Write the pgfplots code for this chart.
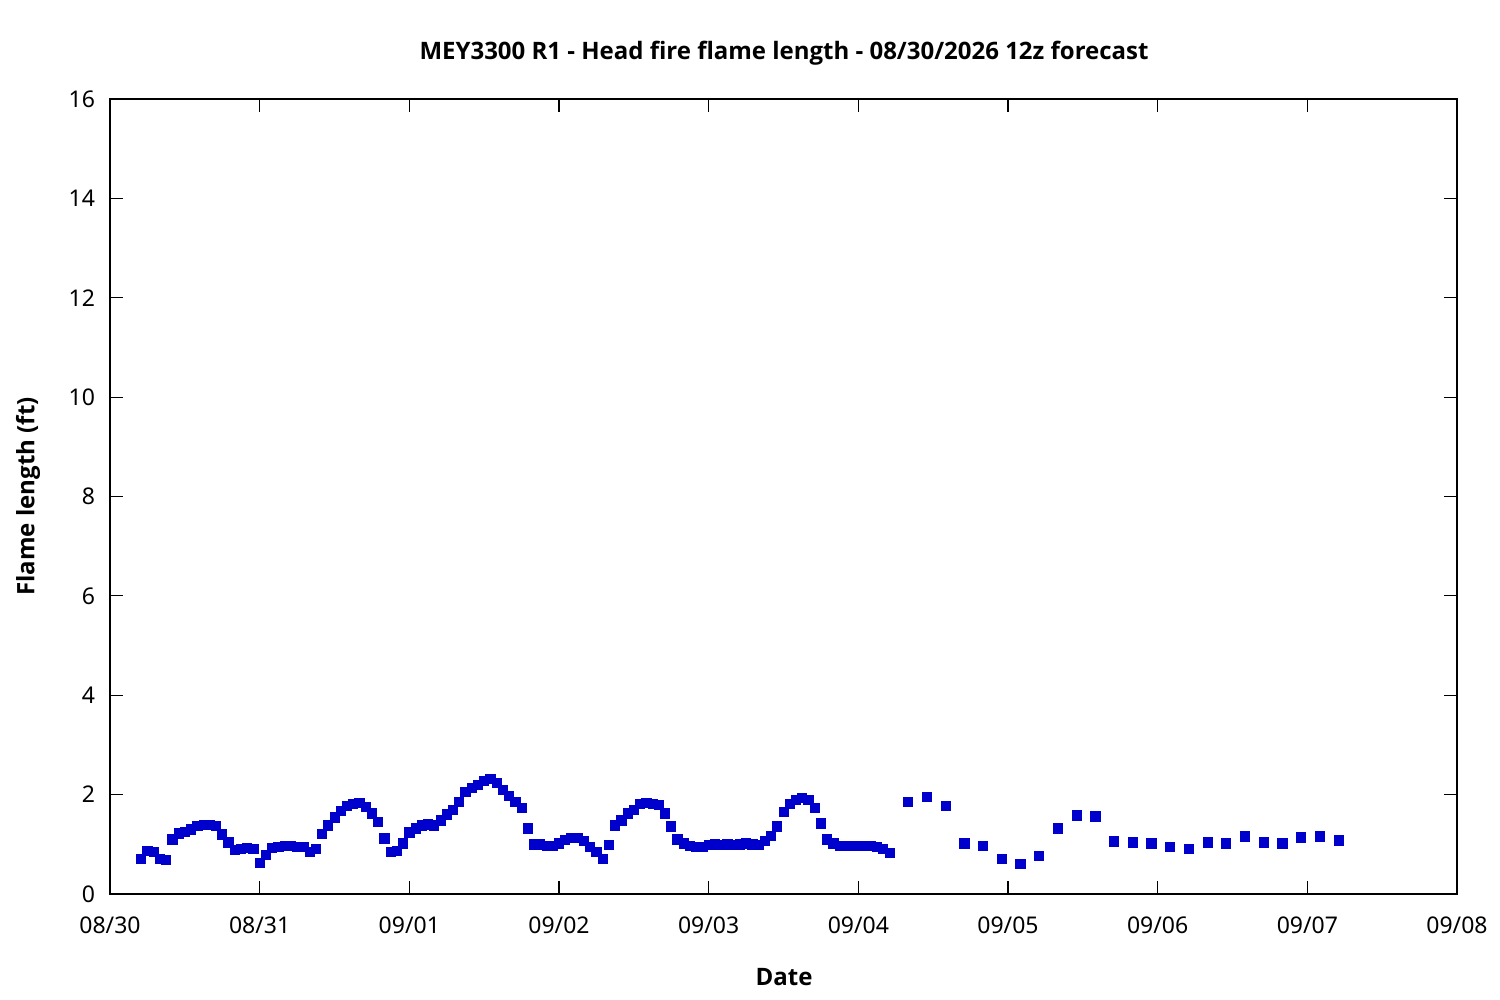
\documentclass[border=0pt]{standalone}
\usepackage{pgfplots}
\pgfplotsset{compat=1.18}
\usepackage{pgfplotstable}
\usepackage{fontspec}
\setmainfont{Noto Sans}
\newfontfamily\titlefont{Open Sans}
\definecolor{ptblue}{RGB}{0,0,204}
\pgfplotstableread{
h v
5 0.70
6 0.87
7 0.85
8 0.70
9 0.68
10 1.10
11 1.22
12 1.25
13 1.30
14 1.37
15 1.39
16 1.39
17 1.37
18 1.20
19 1.04
20 0.89
21 0.91
22 0.93
23 0.90
24 0.62
25 0.78
26 0.93
27 0.95
28 0.97
29 0.97
30 0.94
31 0.94
32 0.84
33 0.90
34 1.21
35 1.38
36 1.54
37 1.68
38 1.77
39 1.82
40 1.84
41 1.76
42 1.62
43 1.45
44 1.12
45 0.84
46 0.86
47 1.02
48 1.24
49 1.32
50 1.38
51 1.40
52 1.38
53 1.48
54 1.60
55 1.70
56 1.86
57 2.05
58 2.13
59 2.19
60 2.28
61 2.32
62 2.23
63 2.09
64 1.97
65 1.86
66 1.74
67 1.32
68 1.00
69 1.00
70 0.96
71 0.96
72 1.02
73 1.09
74 1.13
75 1.13
76 1.07
77 0.94
78 0.84
79 0.70
80 0.98
81 1.38
82 1.48
83 1.62
84 1.70
85 1.82
86 1.83
87 1.81
88 1.79
89 1.62
90 1.36
91 1.10
92 1.02
93 0.96
94 0.94
95 0.94
96 0.98
97 1.00
98 0.98
99 1.00
100 0.98
101 1.00
102 1.02
103 1.00
104 0.98
105 1.07
106 1.17
107 1.36
108 1.66
109 1.81
110 1.90
111 1.94
112 1.89
113 1.74
114 1.42
115 1.10
116 1.02
117 0.96
118 0.96
119 0.96
120 0.96
121 0.96
122 0.96
123 0.94
124 0.90
125 0.82
128 1.85
131 1.95
134 1.78
137 1.02
140 0.96
143 0.70
146 0.60
149 0.76
152 1.32
155 1.58
158 1.56
161 1.06
164 1.04
167 1.02
170 0.94
173 0.90
176 1.04
179 1.02
182 1.16
185 1.04
188 1.02
191 1.14
194 1.16
197 1.08
}\flamedata
\begin{document}
\begin{tikzpicture}
\path[use as bounding box] (0,0) rectangle (750pt,500pt);
\begin{axis}[
  at={(55pt,53pt)}, anchor=south west,
  scale only axis, width=673.5pt, height=397.5pt,
  xmin=0, xmax=216, ymin=0, ymax=16,
  xtick={0,24,...,216},
  xticklabels={08/30,08/31,09/01,09/02,09/03,09/04,09/05,09/06,09/07,09/08},
  ytick={0,2,...,16},
  tick align=inside, major tick length=6.3pt,
  tick style={black, line width=0.6pt},
  axis line style={black, line width=0.7pt},
  font=\fontsize{11.5}{13}\selectfont,
  /pgf/number format/assume math mode=true,
  xticklabel style={yshift=-8pt},
  yticklabel style={xshift=-4pt},
  clip=false,
]
\addplot[only marks, mark=square*, mark size=2.3pt, color=ptblue, mark options={draw=ptblue, fill=ptblue}] table[x=h, y=v] {\flamedata};
\end{axis}
\node[font=\titlefont\fontsize{12}{14}\selectfont\bfseries] at (392pt,473.5pt) {MEY3300 R1 - Head fire flame length - 08/30/2026 12z forecast};
\node[font=\titlefont\fontsize{12}{14}\selectfont\bfseries] at (392pt,11.5pt) {Date};
\node[font=\titlefont\fontsize{12}{14}\selectfont\bfseries, rotate=90] at (14pt,251.75pt) {Flame length (ft)};
\end{tikzpicture}
\end{document}
